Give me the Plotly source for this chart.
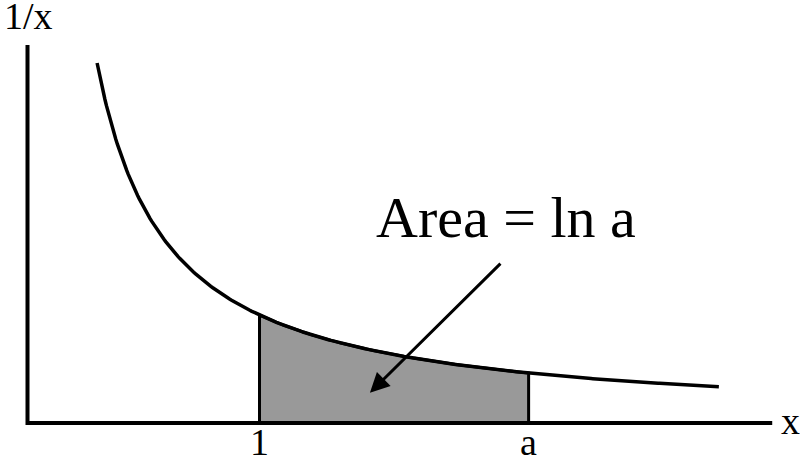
import numpy as np
import plotly.graph_objects as go

# ---- data ----
curve_start = 0.30      # left end of the 1/x curve
curve_end = 2.98        # right end of the 1/x curve
lower_limit = 1.0       # left edge of the shaded area
upper_limit = 2.16      # "a", right edge of the shaded area
axis_y_top = 3.5        # top of the vertical axis
axis_x_right = 3.21     # right end of the horizontal axis
arrow_tail = (2.045, 1.49)
arrow_tip = (1.476, 0.28)

x_tick_labels = ["1", "a"]
x_tick_values = [lower_limit, upper_limit]
area_label = "Area = ln a"
y_axis_label = "1/x"
x_axis_label = "x"

# ---- derived ----
xc = np.linspace(curve_start, curve_end, 400)
yc = 1.0 / xc
xs = np.linspace(lower_limit, upper_limit, 200)
ys = 1.0 / xs

FONT = "Liberation Serif"

fig = go.Figure()

# shaded region
fig.add_trace(go.Scatter(
    x=np.concatenate([[lower_limit], xs, [upper_limit, lower_limit]]),
    y=np.concatenate([[0], ys, [0, 0]]),
    fill="toself", fillcolor="#999999", mode="lines",
    line=dict(color="black", width=3), hoverinfo="skip", showlegend=False))

# curve
fig.add_trace(go.Scatter(x=xc, y=yc, mode="lines",
                         line=dict(color="black", width=3.5),
                         hoverinfo="skip", showlegend=False))

# axes
fig.add_trace(go.Scatter(x=[0, 0, axis_x_right], y=[axis_y_top, 0, 0],
                         mode="lines", line=dict(color="black", width=4),
                         hoverinfo="skip", showlegend=False))

annotations = [
    dict(x=arrow_tip[0], y=arrow_tip[1], ax=arrow_tail[0], ay=arrow_tail[1],
         xref="x", yref="y", axref="x", ayref="y", text="", showarrow=True,
         arrowhead=2, arrowsize=1.3, arrowwidth=3, arrowcolor="black"),
    dict(x=506 / 800, y=1 - 217 / 459, xref="paper", yref="paper",
         text=area_label, showarrow=False,
         font=dict(family=FONT, size=58, color="black"),
         xanchor="center", yanchor="middle"),
    dict(x=28 / 800, y=1 - 16 / 459, xref="paper", yref="paper",
         text=y_axis_label, showarrow=False,
         font=dict(family=FONT, size=38, color="black"),
         xanchor="center", yanchor="middle"),
    dict(x=790 / 800, y=1 - 421 / 459, xref="paper", yref="paper",
         text=x_axis_label, showarrow=False,
         font=dict(family=FONT, size=38, color="black"),
         xanchor="center", yanchor="middle"),
]
for v, t in zip(x_tick_values, x_tick_labels):
    annotations.append(dict(x=v, y=1 - 442 / 459, xref="x", yref="paper",
                            text=t, showarrow=False,
                            font=dict(family=FONT, size=38, color="black"),
                            xanchor="center", yanchor="middle"))

x0_px, sx = 27.5, 232.0
y0_px, sy = 423.0, 108.0
fig.update_layout(
    width=800, height=459,
    margin=dict(l=0, r=0, t=0, b=0),
    paper_bgcolor="white", plot_bgcolor="white",
    xaxis=dict(range=[-x0_px / sx, (800 - x0_px) / sx], visible=False, fixedrange=True),
    yaxis=dict(range=[-(459 - y0_px) / sy, y0_px / sy], visible=False, fixedrange=True),
    annotations=annotations,
    showlegend=False,
)

fig.write_html("out.html", config={"staticPlot": True},
               post_script="document.body.style.margin='0';document.body.style.overflow='hidden';")
